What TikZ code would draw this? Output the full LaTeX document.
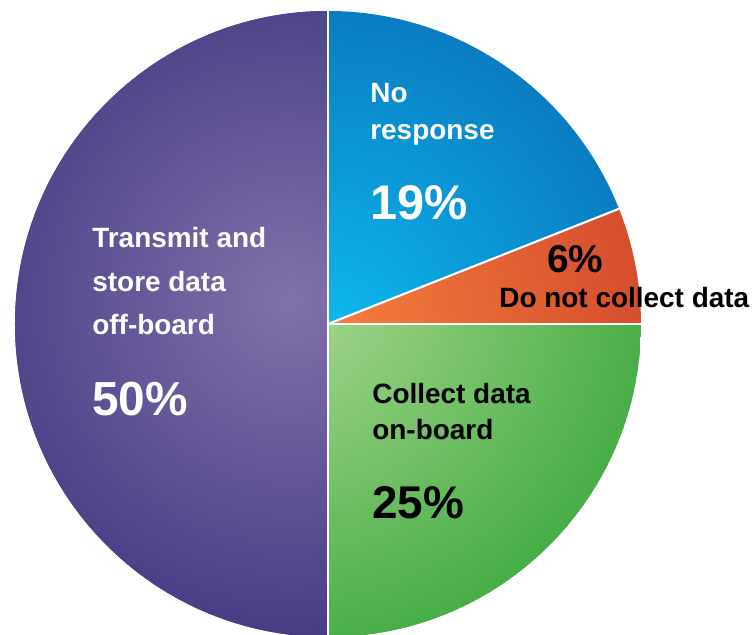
\documentclass[tikz,border=0pt]{standalone}
\usepackage{fontspec}
\setmainfont{Liberation Sans}
\usetikzlibrary{calc}
\definecolor{purpleIn}{HTML}{8171AA}
\definecolor{purpleOut}{HTML}{463B84}
\definecolor{blueIn}{HTML}{0DB8EC}
\definecolor{blueOut}{HTML}{0A7CC2}
\definecolor{orangeIn}{HTML}{F47E3E}
\definecolor{orangeOut}{HTML}{D64E2D}
\definecolor{greenIn}{HTML}{ACD892}
\definecolor{greenOut}{HTML}{44AC44}
\tikzset{
  slicetxt/.style={font=\bfseries\fontsize{15.9}{#1}\selectfont, align=left, inner sep=0pt, anchor=base west},
  slicetxt/.default=24.9,
  pcttxt/.style={font=\bfseries\fontsize{#1}{30}\selectfont, inner sep=0pt, anchor=base west},
  pcttxt/.default=27.2,
  sep/.style={white, line width=1.2pt}
}

\begin{document}
\begin{tikzpicture}[x=0.02cm, y=0.02cm]
\pgfmathsetmacro{\rad}{313}
\pgfmathsetmacro{\cut}{21.6}
\useasboundingbox (-328,-311) rectangle (424,324);
\coordinate (o) at (0,0);

% transmit and store off-board
\begin{scope}
\clip (o) -- (90:\rad) arc[start angle=90, end angle=270, radius=\rad] -- cycle;
\fill[purpleOut] (o) circle (\rad);
\shade[inner color=purpleIn, outer color=purpleOut] (-38,24) circle (345);
\end{scope}
% collect on-board
\begin{scope}
\clip (o) -- (270:\rad) arc[start angle=270, end angle=360, radius=\rad] -- cycle;
\fill[greenOut] (o) circle (\rad);
\shade[inner color=greenIn, outer color=greenOut] (-40,40) circle (380);
\end{scope}
% do not collect
\begin{scope}
\clip (o) -- (0:\rad) arc[start angle=0, end angle=\cut, radius=\rad] -- cycle;
\shade[inner color=orangeIn, outer color=orangeOut] (o) circle (\rad);
\end{scope}
% no response
\begin{scope}
\clip (o) -- (\cut:\rad) arc[start angle=\cut, end angle=90, radius=\rad] -- cycle;
\shade[inner color=blueIn, outer color=blueOut] (o) circle (\rad);
\end{scope}

\draw[sep] (90:\rad) -- (270:\rad);
\draw[sep] (o) -- (0:\rad);
\draw[sep] (o) -- (\cut:\rad);

\node[slicetxt, white] (transmit) at (-236,-11) {Transmit and\\store data\\off-board};
\node[pcttxt, white] (transmitpct) at (-236,-92) {50\%};
\node[slicetxt=21.5, white] (noresp) at (42,184) {No\\response};
\node[pcttxt=27.7, white] (norespct) at (42,104) {19\%};
\node[pcttxt=22.1] (nocollectpct) at (219,51) {6\%};
\node[slicetxt] (nocollect) at (171,16) {Do not collect data};
\node[slicetxt=21] (collect) at (44,-116) {Collect data\\on-board};
\node[pcttxt=26.1] (collectpct) at (44,-195) {25\%};
\end{tikzpicture}
\end{document}
